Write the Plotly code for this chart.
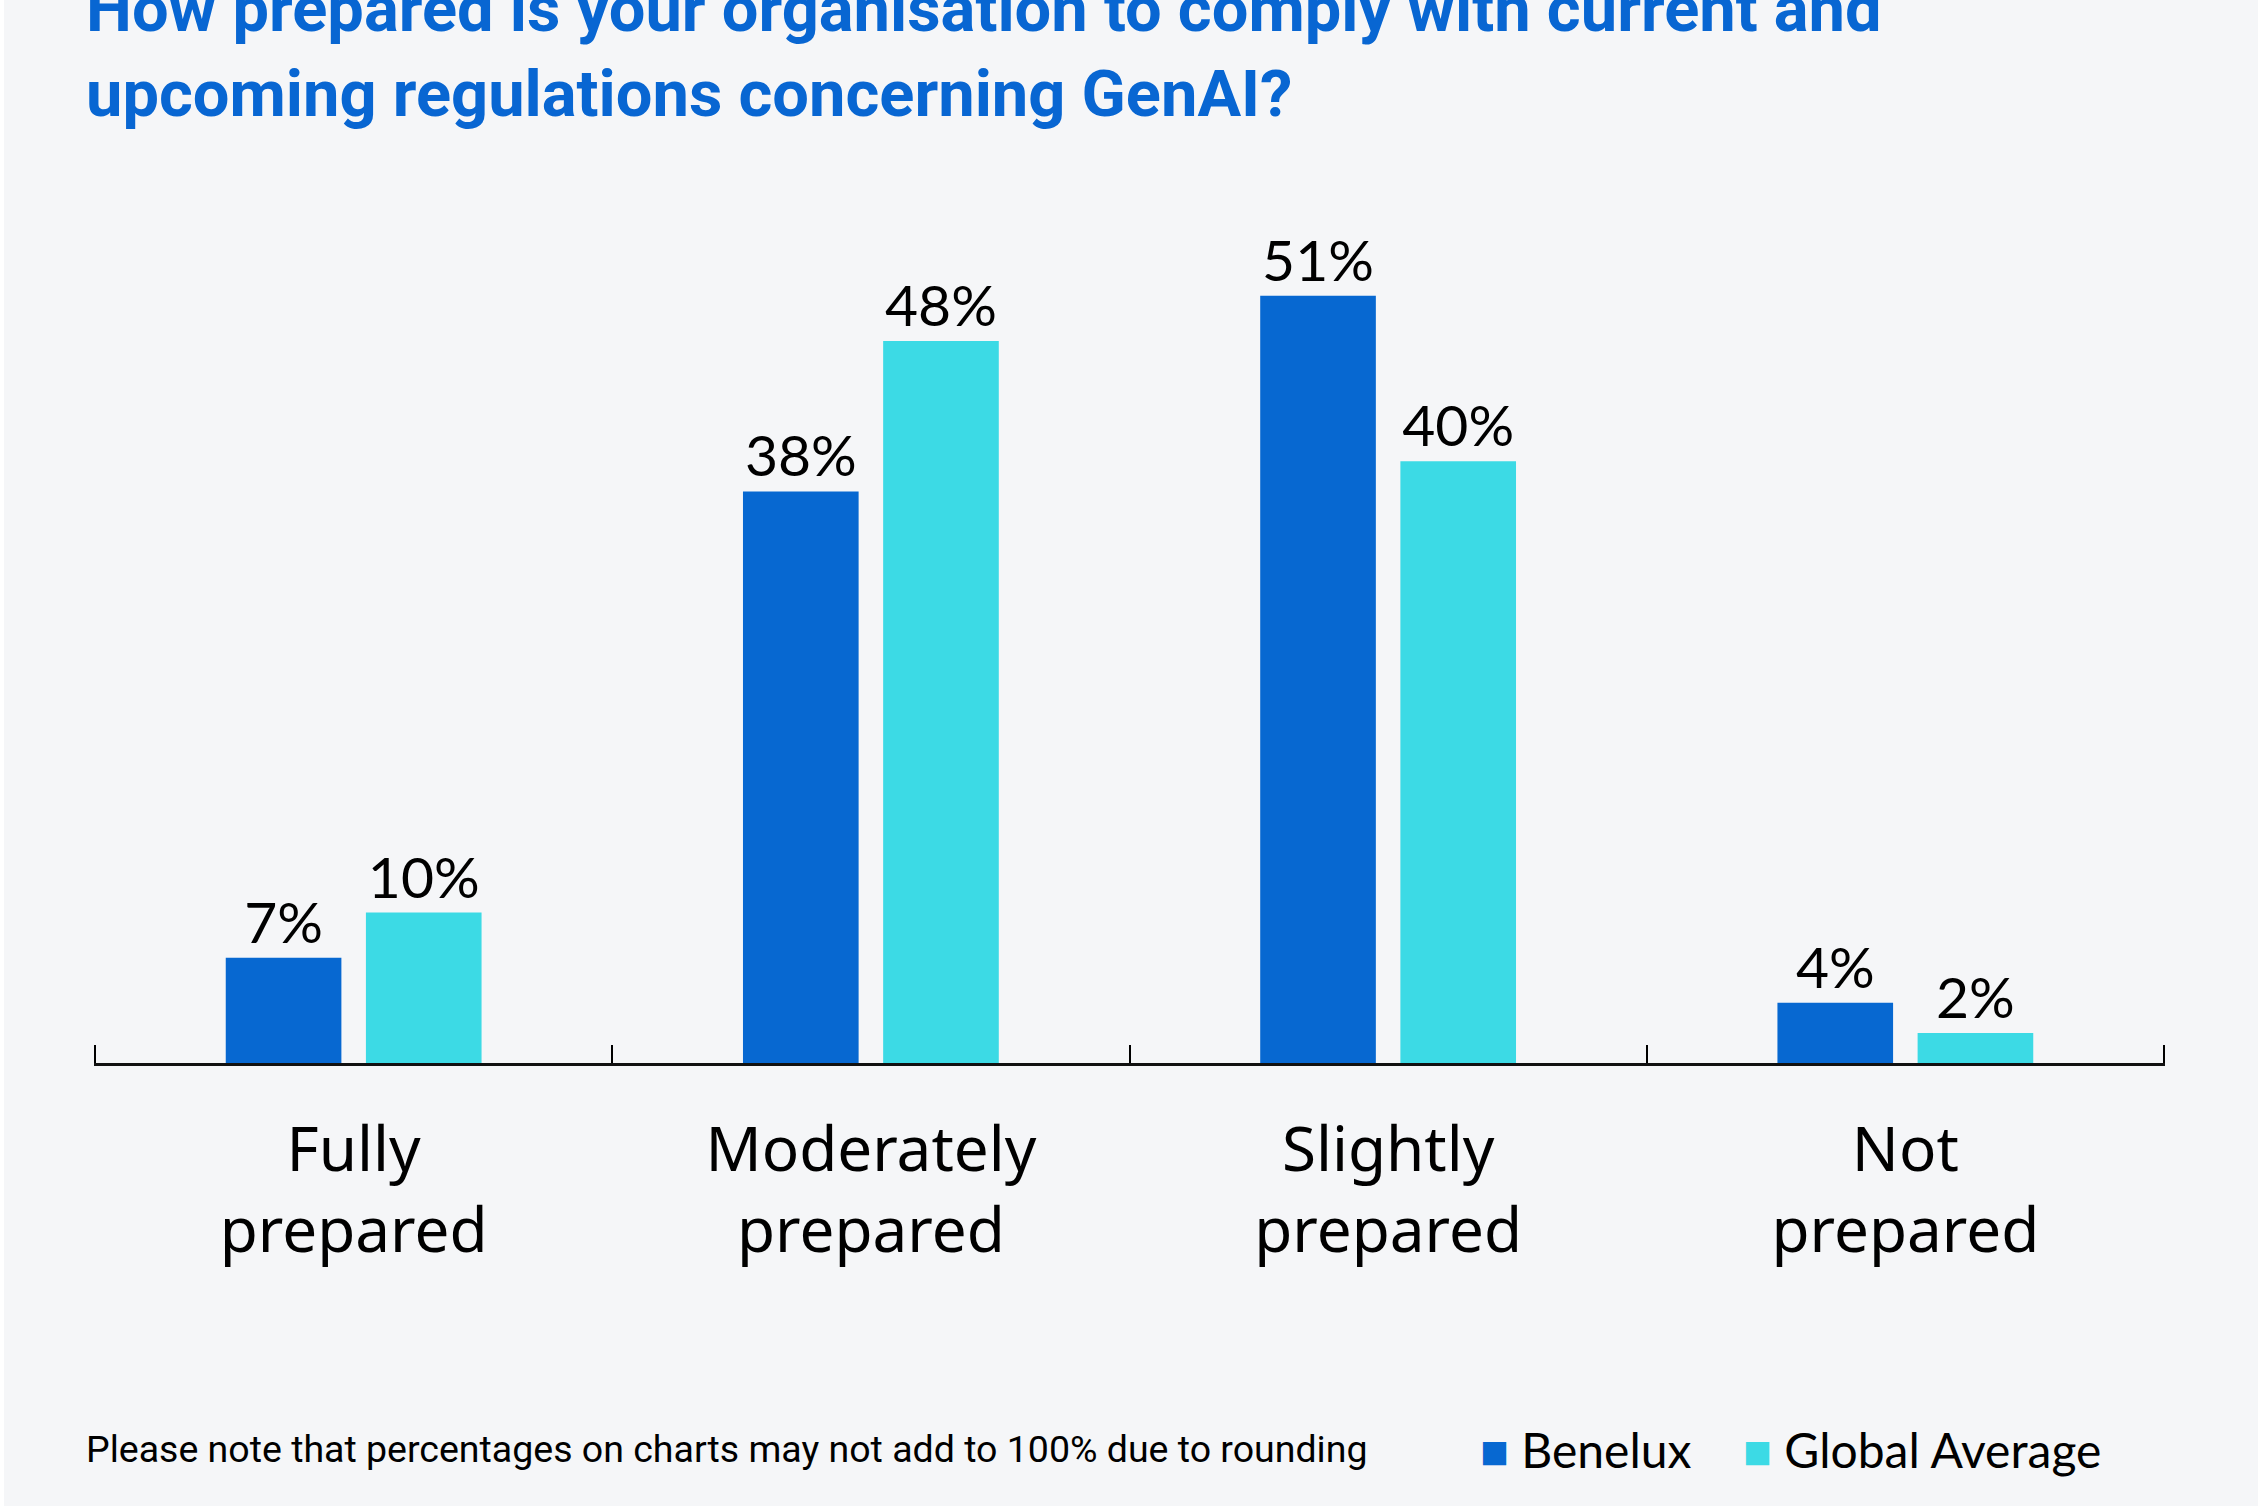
import plotly.graph_objects as go

categories = ["Fully prepared", "Moderately prepared", "Slightly prepared", "Not prepared"]
tick_labels = ["Fully<br>prepared", "Moderately<br>prepared", "Slightly<br>prepared", "Not<br>prepared"]
benelux = [7, 38, 51, 4]
global_avg = [10, 48, 40, 2]
series_names = ["Benelux", "Global Average"]

BLUE = "#0768D1"
CYAN = "#3CDAE5"
BG = "#F5F6F8"

W, H = 2268, 1506
L, R, T, B = 94, 103, 180, 443
PW, PH = W - L - R, H - T - B

fig = go.Figure()
for name, vals, col in [(series_names[0], benelux, BLUE), (series_names[1], global_avg, CYAN)]:
    fig.add_trace(go.Bar(
        x=categories, y=vals, name=name, marker_color=col, marker_line_width=0,
        text=[f"{v}%" for v in vals], textposition="outside", cliponaxis=False,
        constraintext="none",
        textfont=dict(family="Lato", size=57, color="#000000"),
        showlegend=False,
    ))

# background panel
fig.add_shape(type="rect", xref="paper", yref="paper",
              x0=(4 - L) / PW, x1=(2258 - L) / PW, y0=-2, y1=2,
              fillcolor=BG, line_width=0, layer="below")

# title
fig.add_annotation(
    xref="paper", yref="paper", x=(84 - L) / PW, y=1 + (T - 134) / PH,
    xanchor="left", yanchor="bottom", align="left", showarrow=False,
    text="<b>How prepared is your organisation to comply with current and<br>upcoming regulations concerning GenAI?</b>",
    font=dict(family="Roboto", size=65, color="#0866D2"),
)

# footnote
fig.add_annotation(
    xref="paper", yref="paper", x=(84 - L) / PW, y=(1063 - 1449) / PH,
    xanchor="left", yanchor="middle", showarrow=False,
    text="Please note that percentages on charts may not add to 100% due to rounding",
    font=dict(family="Roboto", size=37.5, color="#000000"),
)

# legend (manual)
legend_x = [1478, 1741]
for name, col, lx in zip(series_names, [BLUE, CYAN], legend_x):
    fig.add_annotation(
        xref="paper", yref="paper", x=(lx - L) / PW, y=(1063 - 1449) / PH,
        xanchor="left", yanchor="middle", showarrow=False,
        text=f"<span style='color:{col}'>■</span> {name}",
        font=dict(family="Lato", size=48, color="#000000"),
    )

fig.update_layout(
    width=W, height=H,
    margin=dict(l=L, r=R, t=T, b=B, pad=0),
    paper_bgcolor="#FFFFFF", plot_bgcolor=BG,
    barmode="group", bargap=0.458, bargroupgap=0.175,
    showlegend=False,
    xaxis=dict(
        type="category", range=[-0.502, 3.502],
        tickmode="array", tickvals=categories, ticktext=tick_labels,
        tickson="boundaries", ticks="inside", ticklen=18, tickwidth=2, tickcolor="#000000",
        showline=True, linecolor="#111111", linewidth=3,
        showgrid=False, zeroline=False,
        tickfont=dict(family="Noto Sans", size=62, color="#000000"),
        ticklabelstandoff=31,
    ),
    yaxis=dict(range=[0, 58.7], visible=False, showgrid=False, zeroline=False),
)

fig.write_html("out.html", config={"displayModeBar": False},
               post_script="document.body.style.margin='0';document.body.style.padding='0';")
